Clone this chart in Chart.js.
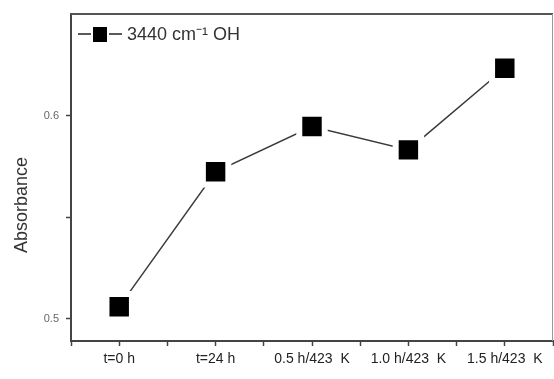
<!DOCTYPE html>
<html>
<head>
<meta charset="utf-8">
<script src="https://cdn.jsdelivr.net/npm/chart.js@4.4.0/dist/chart.umd.min.js"></script>
<style>
  html, body { margin: 0; padding: 0; background: #fff; }
  #wrap { width: 554px; height: 379px; position: relative; }
</style>
</head>
<body>
<div id="wrap"><canvas id="c"></canvas></div>
<script>
const categories = ['t=0 h', 't=24 h', '0.5 h/423  K', '1.0 h/423  K', '1.5 h/423  K'];
const absorbance = [0.5059, 0.5723, 0.5946, 0.5831, 0.6233];
const seriesLabel = '3440 cm\u207B\u00B9 OH';
const yTickValues = [0.5, 0.55, 0.6];
const yTickLabels = { '0.5': '0.5', '0.6': '0.6' };
const yTitle = 'Absorbance';

const points = absorbance.map((v, i) => ({ x: i, y: v }));

const framePlugin = {
  id: 'frame',
  afterDraw(chart) {
    const { ctx, chartArea: a } = chart;
    ctx.save();
    ctx.strokeStyle = '#555';
    ctx.lineWidth = 2;
    ctx.beginPath();
    ctx.moveTo(a.left, a.top);
    ctx.lineTo(a.right, a.top);
    ctx.stroke();
    ctx.strokeStyle = '#999';
    ctx.lineWidth = 1;
    ctx.beginPath();
    ctx.moveTo(a.right - 0.5, a.top);
    ctx.lineTo(a.right - 0.5, a.bottom);
    ctx.stroke();

    // legend (line - square - line + text)
    const ly = 34;
    const lx = a.left + 7;
    ctx.strokeStyle = '#222';
    ctx.lineWidth = 1.5;
    ctx.beginPath();
    ctx.moveTo(lx, ly);
    ctx.lineTo(lx + 44, ly);
    ctx.stroke();
    ctx.fillStyle = '#fff';
    ctx.fillRect(lx + 13, ly - 9, 18, 18);
    ctx.fillStyle = '#000';
    ctx.fillRect(lx + 15, ly - 7, 14, 15);
    ctx.fillStyle = '#333';
    ctx.font = '18px "Liberation Sans", Arial, sans-serif';
    ctx.textBaseline = 'middle';
    ctx.textAlign = 'left';
    ctx.fillText(chart.data.datasets[0].label, lx + 49, ly + 1);

    ctx.save();
    ctx.translate(22, 205);
    ctx.rotate(-Math.PI / 2);
    ctx.textAlign = 'center';
    ctx.textBaseline = 'middle';
    ctx.fillStyle = '#333';
    ctx.font = '18px "Liberation Sans", Arial, sans-serif';
    ctx.fillText(yTitle, 0, 0);
    ctx.restore();
    ctx.restore();
  }
};

new Chart(document.getElementById('c'), {
  type: 'line',
  data: {
    datasets: [{
      label: seriesLabel,
      data: points,
      borderColor: '#3a3a3a',
      borderWidth: 1.5,
      pointStyle: 'rect',
      pointRadius: 18,
      pointHoverRadius: 18,
      pointBackgroundColor: '#000',
      pointBorderColor: '#fff',
      pointBorderWidth: 6,
      tension: 0,
      clip: false
    }]
  },
  options: {
    responsive: true,
    maintainAspectRatio: false,
    animation: false,
    events: [],
    layout: { autoPadding: false, padding: { top: 14, right: 1, left: 0, bottom: 0 } },
    plugins: { legend: { display: false }, tooltip: { enabled: false } },
    scales: {
      x: {
        type: 'linear',
        min: -0.5,
        max: 4.5,
        afterBuildTicks(scale) {
          const t = [];
          for (let v = -0.5; v <= 4.5 + 1e-9; v += 0.5) t.push({ value: v });
          scale.ticks = t;
        },
        afterFit(scale) {
          scale.height = 38;
          scale.paddingLeft = 0; scale.paddingRight = 0;
        },
        grid: { drawOnChartArea: false, drawTicks: true, tickLength: 5, tickWidth: 1.5, tickColor: '#444' },
        border: { display: true, color: '#444', width: 2 },
        ticks: {
          autoSkip: false,
          maxRotation: 0,
          padding: 5,
          color: '#222',
          font: { family: '"Liberation Sans", Arial, sans-serif', size: 14 },
          callback: (v) => Number.isInteger(v) ? categories[v] : ''
        }
      },
      y: {
        type: 'linear',
        min: 0.489,
        max: 0.65,
        afterBuildTicks(scale) {
          scale.ticks = yTickValues.map(v => ({ value: v }));
        },
        afterFit(scale) {
          scale.width = 71;
          scale.paddingTop = 0; scale.paddingBottom = 0;
        },
        grid: { drawOnChartArea: false, drawTicks: true, tickLength: 5, tickWidth: 1.5, tickColor: '#444' },
        border: { display: true, color: '#444', width: 2 },
        ticks: {
          padding: 7,
          color: '#666',
          font: { family: '"Liberation Sans", Arial, sans-serif', size: 11 },
          callback: (v) => yTickLabels[String(Math.round(v * 100) / 100)] || ''
        }
      }
    }
  },
  plugins: [framePlugin]
});
</script>
</body>
</html>
